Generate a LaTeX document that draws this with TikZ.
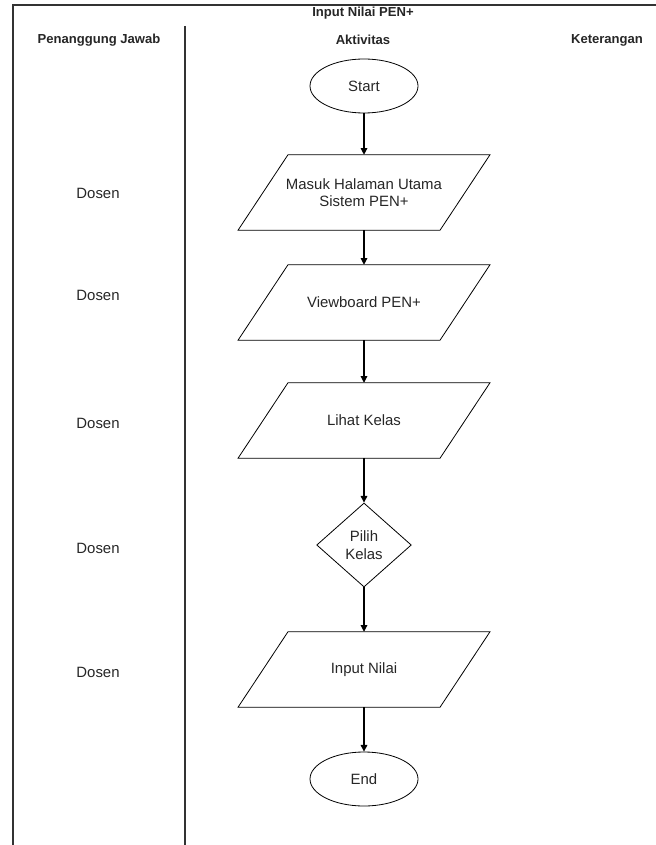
\documentclass[tikz,border=0pt]{standalone}
\usepackage{fontspec}
\setmainfont{Liberation Sans}
\usetikzlibrary{shapes.geometric,arrows.meta,calc}
\newcommand{\iodraw}[1]{\draw[line width=0.6pt] ($(#1.north)+(-76,0)$) -- ($(#1.north)+(126,0)$) -- ($(#1.south)+(76,0)$) -- ($(#1.south)+(-126,0)$) -- cycle;}
\begin{document}
\begin{tikzpicture}[x=0.75pt,y=-0.75pt,
  hdr/.style={font=\fontsize{9.8}{11}\selectfont\bfseries, inner sep=0, text=black!85},
  body/.style={font=\fontsize{11.2}{13}\selectfont, align=center, inner sep=0, text=black!85},
  lane/.style={line width=1.5pt, draw=black!80},
  term/.style={ellipse, draw, line width=0.6pt, minimum width=81pt, minimum height=40.5pt, inner sep=0, body},
  iobox/.style={minimum width=151.5pt, minimum height=56.25pt, inner sep=0, body},
  dec/.style={diamond, draw, line width=0.6pt, minimum width=71pt, minimum height=63pt, inner sep=0, body},
  flow/.style={-{Triangle[length=5pt,width=5pt]}, line width=0.8pt}
]
\useasboundingbox (0,0) rectangle (656,845);
% frame and lanes
\draw[lane] (13,845) -- (13,5) -- (656,5);
\draw[lane] (185,26) -- (185,845);
% headers
\node[hdr] (title) at (363,13) {Input Nilai PEN+};
\node[hdr] (h1) at (99,40) {Penanggung Jawab};
\node[hdr] (h2) at (363,40) {Aktivitas};
\node[hdr] (h3) at (607,40) {Keterangan};
% flow
\node[term] (start) at (364,86) {Start};
\node[iobox] (p1) at (364,192.5) {Masuk Halaman Utama\\Sistem PEN+};
\node[iobox] (p2) at (364,302.5) {Viewboard PEN+};
\node[iobox] (p3) at (364,420.5) {Lihat Kelas};
\node[dec] (d) at (364,545) {Pilih\\Kelas};
\node[iobox] (p4) at (364,669.5) {Input Nilai};
\node[term] (end) at (364,779) {End};
\iodraw{p1}
\iodraw{p2}
\iodraw{p3}
\iodraw{p4}
\draw[flow] (start.south) -- (p1.north);
\draw[flow] (p1.south) -- (p2.north);
\draw[flow] (p2.south) -- (p3.north);
\draw[flow] (p3.south) -- (d.north);
\draw[flow] (d.south) -- (p4.north);
\draw[flow] (p4.south) -- (end.north);
% responsible
\node[body] (r1) at (98,193) {Dosen};
\node[body] (r2) at (98,295) {Dosen};
\node[body] (r3) at (98,423) {Dosen};
\node[body] (r4) at (98,548) {Dosen};
\node[body] (r5) at (98,672) {Dosen};
\end{tikzpicture}
\end{document}
